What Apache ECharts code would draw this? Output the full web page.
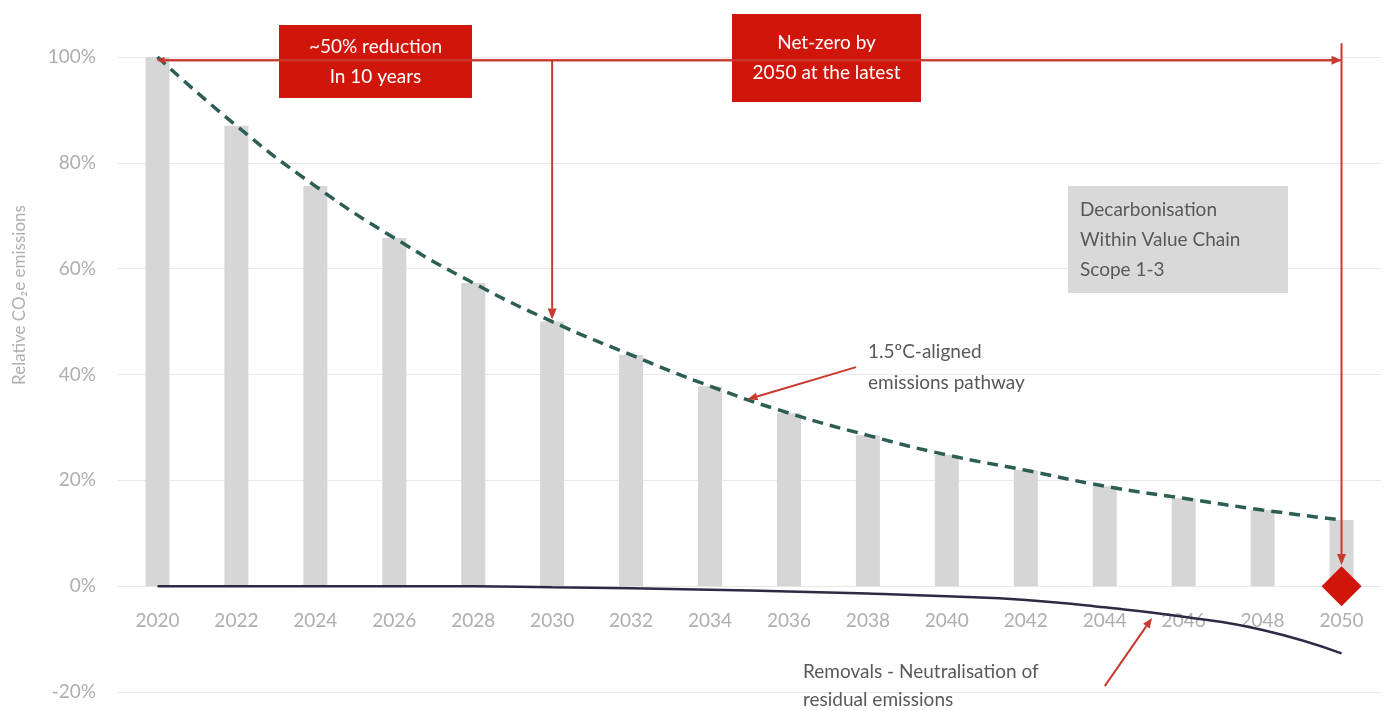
<!DOCTYPE html>
<html>
<head>
<meta charset="utf-8">
<script src="https://cdn.jsdelivr.net/npm/echarts@6/dist/echarts.min.js"></script>
<style>
  html, body { margin: 0; padding: 0; background: #ffffff; }
  #chart { width: 1386px; height: 711px; }
</style>
</head>
<body>
<div id="chart"></div>
<script>
// Years on the horizontal axis
const years = ['2020', '2022', '2024', '2026', '2028', '2030', '2032', '2034',
               '2036', '2038', '2040', '2042', '2044', '2046', '2048', '2050'];

// Relative CO2e emissions along the 1.5°C-aligned pathway (% of 2020)
const pathway = [100, 87, 75.6, 65.8, 57.3, 50, 43.7, 37.8,
                 32.7, 28.5, 24.8, 21.9, 18.9, 16.6, 14.4, 12.5];

// Removals neutralising residual emissions (% of 2020)
const removals = [0, 0, 0, 0, 0, -0.2, -0.4, -0.7,
                  -1.0, -1.4, -1.9, -2.6, -4.0, -5.8, -8.3, -12.7];

// Net-zero target point
const netZero = [['2050', 0]];

// Value axis range and step
const yMin = -20, yMax = 100, yStep = 20;

// Annotation anchors in data space: [year, percent]
const bracketStart = [2020, 99.4];
const bracketEnd = [2050, 99.4];
const halfwayDropTop = [2030, 99.4];
const halfwayDropEnd = [2030, 50.4];
const netZeroDropTop = [2050, 102.6];
const netZeroDropEnd = [2050, 4];
const pathwayPointerFrom = [2037.7, 41.4];
const pathwayPointerTo = [2034.95, 35.3];
const removalsPointerFrom = [2044.0, -18.9];
const removalsPointerTo = [2045.2, -6.0];

const FONT = 'Lato, "Open Sans", sans-serif';
const RED = '#d0150a';
const LINE_RED = '#c8392e';

const GRID_TOP = 57, GRID_BOTTOM = 19;
const chartHeight = 711;
// Distance from the grid bottom (yMin) up to the zero line, so the year labels sit under 0%
const zeroOffset = (chartHeight - GRID_TOP - GRID_BOTTOM) * (0 - yMin) / (yMax - yMin);

const chart = echarts.init(document.getElementById('chart'));

chart.setOption({
  animation: false,
  backgroundColor: '#ffffff',
  grid: { left: 118, right: 5, top: GRID_TOP, bottom: GRID_BOTTOM, containLabel: false, outerBoundsMode: 'none' },
  xAxis: {
    type: 'category',
    data: years,
    boundaryGap: true,
    offset: -zeroOffset,
    axisLine: { show: false, onZero: false },
    axisTick: { show: false },
    axisLabel: { color: '#aeaeae', fontSize: 19, fontFamily: FONT, margin: 25 },
    splitLine: { show: false }
  },
  yAxis: {
    type: 'value',
    min: yMin,
    max: yMax,
    interval: yStep,
    axisLine: { show: false },
    axisTick: { show: false },
    axisLabel: { color: '#aeaeae', fontSize: 19, fontFamily: FONT, margin: 22, formatter: '{value}%' },
    splitLine: { lineStyle: { color: '#e8e8e8', width: 1 } }
  },
  series: [
    {
      name: 'Emissions',
      type: 'bar',
      data: pathway,
      barWidth: 24,
      itemStyle: { color: '#d6d6d6' },
      z: 1
    },
    {
      name: '1.5°C pathway',
      type: 'line',
      data: pathway,
      smooth: true,
      symbol: 'none',
      lineStyle: { color: '#2c5e56', width: 3.5, type: [11, 7] },
      z: 3
    },
    {
      name: 'Removals',
      type: 'line',
      data: removals,
      smooth: true,
      symbol: 'none',
      lineStyle: { color: '#2c2a45', width: 2.5 },
      z: 3
    },
    {
      name: 'Net-zero',
      type: 'scatter',
      data: netZero,
      symbol: 'diamond',
      symbolSize: 40,
      itemStyle: { color: RED, opacity: 1 },
      z: 5
    }
  ]
});

// Pixel position of a [year, percent] anchor, interpolated between the first and last category
function px(pt) {
  const a = chart.convertToPixel({ xAxisIndex: 0, yAxisIndex: 0 }, [0, 0]);
  const b = chart.convertToPixel({ xAxisIndex: 0, yAxisIndex: 0 }, [years.length - 1, 0]);
  const y0 = chart.convertToPixel({ yAxisIndex: 0 }, pt[1]);
  const first = Number(years[0]), last = Number(years[years.length - 1]);
  const x = a[0] + (pt[0] - first) / (last - first) * (b[0] - a[0]);
  return [x, y0];
}

// Straight line with a triangular head at its end point
function arrow(from, to, head, headW, color, width) {
  const p0 = px(from), p1 = px(to);
  const dx = p1[0] - p0[0], dy = p1[1] - p0[1];
  const len = Math.sqrt(dx * dx + dy * dy);
  const ux = dx / len, uy = dy / len;
  const bx = p1[0] - ux * head, by = p1[1] - uy * head;
  const nx = -uy * headW / 2, ny = ux * headW / 2;
  return [
    { type: 'line', z: 50, shape: { x1: p0[0], y1: p0[1], x2: bx, y2: by },
      style: { stroke: color, lineWidth: width } },
    { type: 'polygon', z: 50, shape: { points: [[p1[0], p1[1]], [bx + nx, by + ny], [bx - nx, by - ny]] },
      style: { fill: color } }
  ];
}

function textBox(left, top, w, h, fill, lines, color, align, padLeft) {
  return {
    type: 'group', z: 60,
    children: [
      { type: 'rect', shape: { x: left, y: top, width: w, height: h }, style: { fill: fill } },
      { type: 'text', x: align === 'center' ? left + w / 2 : left + padLeft, y: top + h / 2,
        style: { text: lines, fill: color, font: '19px ' + FONT, lineHeight: 30,
                 align: align, verticalAlign: 'middle' } }
    ]
  };
}

const graphics = [].concat(
  arrow(bracketStart, bracketEnd, 10, 9, LINE_RED, 2),
  arrow(bracketEnd, bracketStart, 7, 7, LINE_RED, 2),
  arrow(halfwayDropTop, halfwayDropEnd, 11, 9, LINE_RED, 2),
  arrow(netZeroDropTop, netZeroDropEnd, 11, 9, LINE_RED, 2),
  arrow(pathwayPointerFrom, pathwayPointerTo, 10, 8, LINE_RED, 2),
  arrow(removalsPointerFrom, removalsPointerTo, 10, 8, LINE_RED, 2),
  [
    textBox(279, 25, 193, 73, RED, '~50% reduction\nIn 10 years', '#ffffff', 'center'),
    textBox(732, 14, 189, 88, RED, 'Net-zero by\n2050 at the latest', '#ffffff', 'center'),
    textBox(1068, 186, 220, 107, '#d9d9d9', 'Decarbonisation\nWithin Value Chain\nScope 1-3', '#595959', 'left', 12),
    { type: 'text', z: 60, x: 868, y: 367,
      style: { text: '1.5ºC-aligned\nemissions pathway', fill: '#595959', font: '19px ' + FONT,
               lineHeight: 31, align: 'left', verticalAlign: 'middle' } },
    { type: 'text', z: 60, x: 803, y: 686,
      style: { text: 'Removals - Neutralisation of\nresidual emissions', fill: '#595959', font: '19px ' + FONT,
               lineHeight: 28, align: 'left', verticalAlign: 'middle' } },
    { type: 'text', z: 60, x: 20, y: 295, rotation: Math.PI / 2,
      style: { text: 'Relative CO₂e emissions', fill: '#b0b0b0', font: '17px ' + FONT,
               align: 'center', verticalAlign: 'middle' } }
  ]
);

chart.setOption({ graphic: graphics });
</script>
</body>
</html>
